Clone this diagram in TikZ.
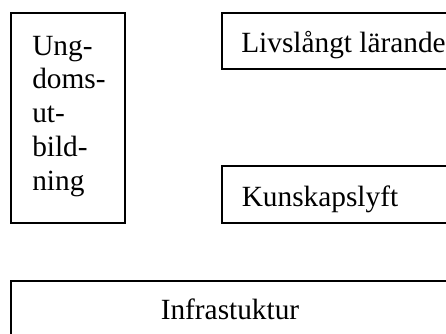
\documentclass[tikz,border=0pt]{standalone}
\usepackage{fontspec}
\setmainfont{Liberation Serif}
\usepackage{tikz}
\usetikzlibrary{calc}
\usepackage{xcolor}

\begin{document}
\begin{tikzpicture}[x=0.75pt,y=-0.75pt]

		\useasboundingbox (0,0) rectangle (446,333);
		\clip (0,0) rectangle (446,333);
		\tikzset{ruta/.style={draw, line width=1.5pt, rectangle, inner sep=0pt, outer sep=0pt, anchor=north west}}
		\tikzset{ord/.style={inner sep=0pt, anchor=base west, font=\fontsize{22}{25}\selectfont}}
		\node[ruta, minimum width=85.5pt, minimum height=157.5pt] (U) at (11,13) {};
		\node[ruta, minimum width=178.5pt, minimum height=42pt] (L) at (222,13) {};
		\node[ruta, minimum width=178.5pt, minimum height=42.75pt] (K) at (222,166) {};
		\node[ruta, minimum width=329.25pt, minimum height=60pt] (I) at (11,281) {};

    \node[ord] (U1) at (32,55) {Ung-};
    \node[ord] (U2) at (32,88.5) {doms-};
    \node[ord] (U3) at (32,122) {ut-};
    \node[ord] (U4) at (32,156) {bild-};
    \node[ord] (U5) at (32,190) {ning};

    \node[ord] (LT) at (241,52) {Livslångt lärande};
    \node[ord] (KT) at (241.5,206) {Kunskapslyft};
    \node[ord, anchor=base] (IT) at (230,319) {Infrastuktur};

		\end{tikzpicture}
\end{document}
